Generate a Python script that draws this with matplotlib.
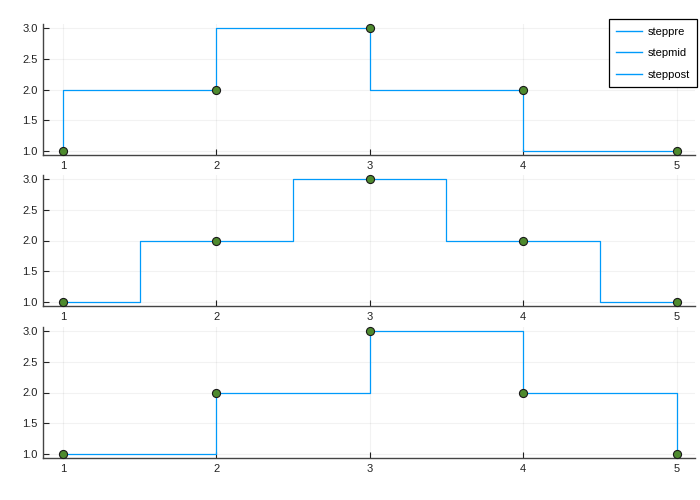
import matplotlib
matplotlib.use("Agg")
import matplotlib.pyplot as plt
from matplotlib.lines import Line2D

x = [1, 2, 3, 4, 5]
y = [1, 2, 3, 2, 1]
step_kinds = ["pre", "mid", "post"]
labels = ["steppre", "stepmid", "steppost"]
xticks = [1, 2, 3, 4, 5]
yticks = [1.0, 1.5, 2.0, 2.5, 3.0]

line_color = "#009AFA"
marker_color = "#4E8A2E"

plt.rcParams['font.family'] = ['Liberation Sans', 'DejaVu Sans']

fig = plt.figure(figsize=(7, 5), dpi=100)
W, H = 700, 500
left, right = 43, 695
bottoms = [155, 306, 458]
ph = 131

axes = []
for i, kind in enumerate(step_kinds):
    b = bottoms[i]
    ax = fig.add_axes([left / W, 1 - b / H, (right - left) / W, ph / H])
    ax.step(x, y, where=kind, color=line_color, lw=0.9, zorder=3)
    ax.scatter(x, y, s=34, color=marker_color, edgecolors="#1a1a1a",
               linewidths=0.8, zorder=4, clip_on=False)
    ax.set_xlim(0.87, 5.12)
    ax.set_ylim(0.935, 3.065)
    ax.set_xticks(xticks)
    ax.set_xticklabels([str(t) for t in xticks])
    ax.set_yticks(yticks)
    ax.set_yticklabels([f"{t:.1f}" for t in yticks])
    ax.grid(True, color="#000000", alpha=0.05, lw=0.8)
    ax.set_axisbelow(True)
    for s in ["top", "right"]:
        ax.spines[s].set_visible(False)
    ax.spines["left"].set_color("#444444")
    ax.spines["bottom"].set_color("#444444")
    ax.spines["left"].set_linewidth(1.0)
    ax.spines["bottom"].set_linewidth(1.0)
    ax.tick_params(direction="in", length=4, width=0.8, color="#222222",
                   labelsize=8, labelcolor="#222222", pad=4)
    axes.append(ax)

handles = [Line2D([0], [0], color=line_color, lw=1.0) for _ in labels]
leg = axes[0].legend(handles, labels, loc="upper right", fontsize=8,
                     frameon=True, fancybox=False, edgecolor="black",
                     framealpha=1, borderpad=0.65, labelspacing=1.05,
                     handlelength=2.3, handletextpad=0.5, borderaxespad=0.0,
                     bbox_to_anchor=(1.003, 1.035))
leg.get_frame().set_linewidth(0.9)

fig.savefig("out.png", dpi=100)
